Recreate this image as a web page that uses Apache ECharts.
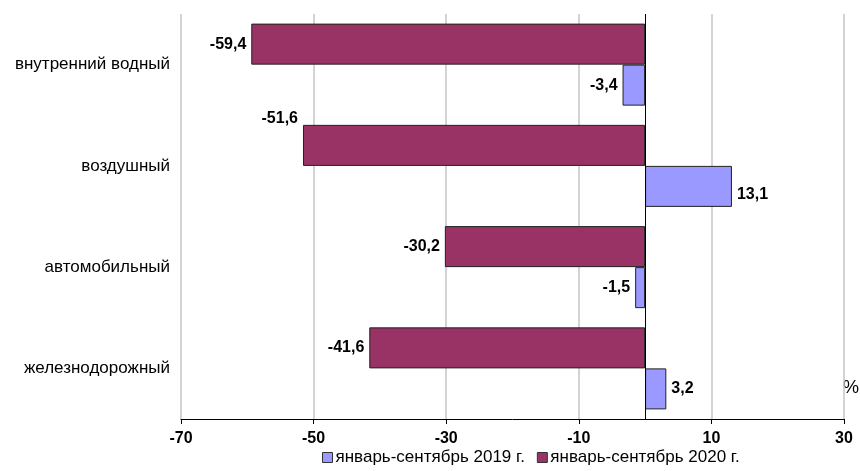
<!DOCTYPE html>
<html>
<head>
<meta charset="utf-8">
<script src="https://cdn.jsdelivr.net/npm/echarts@6/dist/echarts.min.js"></script>
<style>html,body{margin:0;padding:0;background:#fff}#c{width:860px;height:471px}</style>
</head>
<body>
<div id="c"></div>
<script>
// Categories listed bottom-to-top (ECharts category y-axis starts at the bottom)
const categories = ['железнодорожный', 'автомобильный', 'воздушный', 'внутренний водный'];
const values2019 = [3.2, -1.5, 13.1, -3.4];
const values2020 = [-41.6, -30.2, -51.6, -59.4];
const seriesNames = ['январь-сентябрь 2019 г.', 'январь-сентябрь 2020 г.'];
const xTicks = [-70, -50, -30, -10, 10, 30];

const FONT = '"Liberation Sans", Arial, sans-serif';
function fmt(v) { return String(v).replace('.', ','); }
function buildData(vals, isSecond) {
  return vals.map((v, i) => {
    const lbl = { position: v < 0 ? 'left' : 'right' };
    if (isSecond && i === 2) { lbl.offset = [0, -27]; }
    if (!isSecond && i === 2) { lbl.offset = [0, 8]; }
    return { value: v, label: lbl };
  });
}

const chart = echarts.init(document.getElementById('c'));
const labelStyle = {
  show: true, color: '#000', fontFamily: FONT, fontWeight: 'bold', fontSize: 16,
  formatter: p => fmt(p.value), distance: 5
};
chart.setOption({
  animation: false,
  grid: { left: 181, right: 16, top: 14, bottom: 52, containLabel: false },
  xAxis: {
    type: 'value', min: xTicks[0], max: xTicks[xTicks.length - 1], interval: 20,
    axisLine: { show: true, onZero: false, lineStyle: { color: '#000', width: 1 } },
    axisTick: { show: true, length: 5, lineStyle: { color: '#000' } },
    axisLabel: { color: '#000', fontFamily: FONT, fontWeight: 'bold', fontSize: 16, margin: 12,
                 formatter: v => String(v) },
    splitLine: { show: true, lineStyle: { color: '#c4c4c4', width: 1.5 } }
  },
  yAxis: {
    type: 'category', data: categories,
    axisLine: { show: false }, axisTick: { show: false },
    axisLabel: { color: '#000', fontFamily: FONT, fontSize: 17, margin: 11 }
  },
  legend: {
    data: seriesNames, left: 317, bottom: 0, icon: 'rect', itemWidth: 10, itemHeight: 10, itemGap: 12,
    itemStyle: { borderColor: '#333', borderWidth: 1 },
    textStyle: { color: '#000', fontFamily: FONT, fontSize: 17, padding: [0, 0, 0, -2] }
  },
  graphic: [{
    type: 'text', left: 843, top: 379,
    style: { text: '%', fill: '#000', font: '18px ' + FONT }
  }],
  series: [
    {
      name: seriesNames[1], type: 'bar', data: buildData(values2020, true),
      barGap: '0%', barCategoryGap: '19%',
      itemStyle: { color: '#993366', borderColor: '#222', borderWidth: 1 },
      label: labelStyle,
      markLine: {
        silent: true, symbol: 'none', label: { show: false },
        lineStyle: { color: '#000', type: 'solid', width: 1 },
        data: [{ xAxis: 0 }]
      }
    },
    {
      name: seriesNames[0], type: 'bar', data: buildData(values2019, false),
      barGap: '0%', barCategoryGap: '19%',
      itemStyle: { color: '#9999FF', borderColor: '#222', borderWidth: 1 },
      label: labelStyle
    }
  ]
});
</script>
</body>
</html>
